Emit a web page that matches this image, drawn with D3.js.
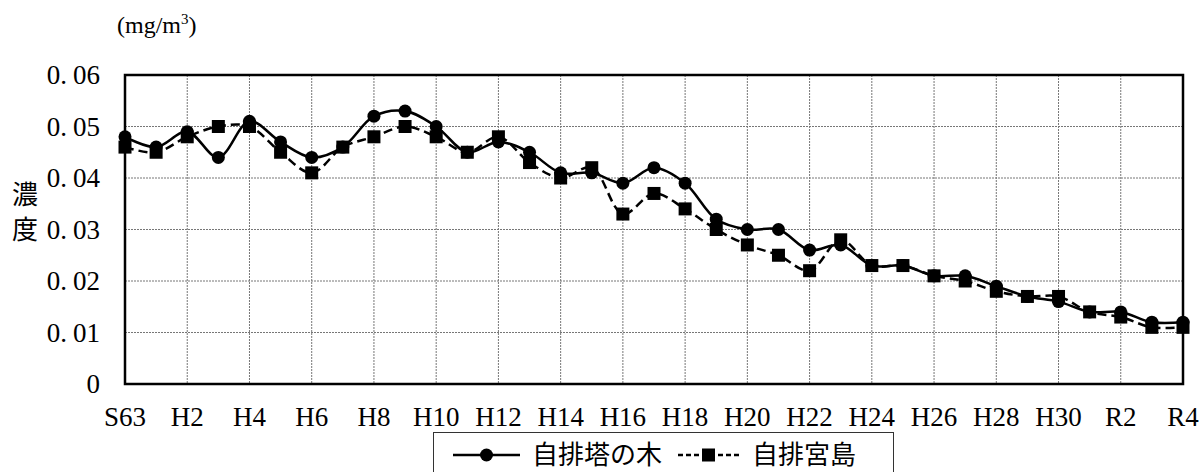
<!DOCTYPE html>
<html>
<head>
<meta charset="utf-8">
<script src="https://cdn.jsdelivr.net/npm/d3@7"></script>
<style>
  body { margin: 0; background: #fff; }
  text { font-family: "Liberation Serif", "Noto Sans CJK JP", serif; fill: #000; }
</style>
</head>
<body>
<svg id="chart"></svg>
<script>
// fiscal years, S63 .. R4
const years = ["S63", "H1", "H2", "H3", "H4", "H5", "H6", "H7", "H8", "H9", "H10",
    "H11", "H12", "H13", "H14", "H15", "H16", "H17", "H18", "H19", "H20",
    "H21", "H22", "H23", "H24", "H25", "H26", "H27", "H28", "H29", "H30",
    "R1", "R2", "R3", "R4"];

// 自排塔の木
const tonoki = [0.048, 0.046, 0.049, 0.044, 0.051, 0.047, 0.044, 0.046, 0.052, 0.053, 0.050,
    0.045, 0.047, 0.045, 0.041, 0.041, 0.039, 0.042, 0.039, 0.032, 0.030,
    0.030, 0.026, 0.027, 0.023, 0.023, 0.021, 0.021, 0.019, 0.017, 0.016,
    0.014, 0.014, 0.012, 0.012];

// 自排宮島
const miyajima = [0.046, 0.045, 0.048, 0.050, 0.050, 0.045, 0.041, 0.046, 0.048, 0.050, 0.048,
    0.045, 0.048, 0.043, 0.040, 0.042, 0.033, 0.037, 0.034, 0.030, 0.027,
    0.025, 0.022, 0.028, 0.023, 0.023, 0.021, 0.020, 0.018, 0.017, 0.017,
    0.014, 0.013, 0.011, 0.011];

const yTicks = [0, 0.01, 0.02, 0.03, 0.04, 0.05, 0.06];
const xTickLabels = years.filter((d, i) => i % 2 === 0);
const seriesNames = ["自排塔の木", "自排宮島"];

const width = 1204, height = 472;
const margin = {top: 75, right: 21, bottom: 88, left: 125};

const svg = d3.select("#chart")
    .attr("width", width)
    .attr("height", height);

const x = d3.scalePoint()
    .domain(years)
    .range([margin.left, width - margin.right]);

const y = d3.scaleLinear()
    .domain([0, 0.06])
    .range([height - margin.bottom, margin.top]);

// grid
const grid = svg.append("g");

grid.selectAll("line.h")
    .data(yTicks.slice(1, -1))
    .join("line")
    .attr("x1", margin.left)
    .attr("x2", width - margin.right)
    .attr("y1", d => y(d))
    .attr("y2", d => y(d))
    .attr("stroke", "#777")
    .attr("stroke-width", 1)
    .attr("stroke-dasharray", "2,1");

grid.selectAll("line.v")
    .data(xTickLabels.slice(1, -1))
    .join("line")
    .attr("x1", d => x(d))
    .attr("x2", d => x(d))
    .attr("y1", margin.top)
    .attr("y2", height - margin.bottom)
    .attr("stroke", "#777")
    .attr("stroke-width", 1)
    .attr("stroke-dasharray", "2,1");

// plot frame
svg.append("rect")
    .attr("x", margin.left)
    .attr("y", margin.top)
    .attr("width", width - margin.left - margin.right)
    .attr("height", height - margin.top - margin.bottom)
    .attr("fill", "none")
    .attr("stroke", "#000")
    .attr("stroke-width", 2.5);

// y axis labels
const yLab = svg.append("g")
    .selectAll("text")
    .data(yTicks)
    .join("text")
    .attr("x", margin.left - 25)
    .attr("y", d => y(d))
    .attr("text-anchor", "end")
    .attr("dominant-baseline", "central")
    .style("font-size", "27px");

yLab.each(function(d) {
    const t = d3.select(this);
    if (d === 0) {
        t.text("0");
    } else {
        const s = d3.format(".2f")(d).split(".");
        t.append("tspan").text(s[0] + ".");
        t.append("tspan").attr("dx", 6).text(s[1]);
    }
});

// x axis labels
svg.append("g")
    .selectAll("text")
    .data(xTickLabels)
    .join("text")
    .attr("x", d => x(d))
    .attr("y", height - margin.bottom + 42)
    .attr("text-anchor", "middle")
    .style("font-size", "27px")
    .text(d => d);

// unit and axis title
const unit = svg.append("text")
    .attr("x", 117)
    .attr("y", 33)
    .style("font-size", "24px")
    .text("(mg/m");
unit.append("tspan").attr("dy", -9).style("font-size", "15px").text("3");
unit.append("tspan").attr("dy", 9).text(")");

svg.append("text")
    .attr("x", 25)
    .attr("y", 195)
    .attr("text-anchor", "middle")
    .attr("dominant-baseline", "central")
    .style("font-size", "26px")
    .text("濃");
svg.append("text")
    .attr("x", 25)
    .attr("y", 230)
    .attr("text-anchor", "middle")
    .attr("dominant-baseline", "central")
    .style("font-size", "26px")
    .text("度");

// lines
const line = d3.line()
    .x((d, i) => x(years[i]))
    .y(d => y(d))
    .curve(d3.curveCatmullRom.alpha(0.5));

svg.append("path")
    .datum(miyajima)
    .attr("d", line)
    .attr("fill", "none")
    .attr("stroke", "#000")
    .attr("stroke-width", 2.5)
    .attr("stroke-dasharray", "9,5");

svg.append("path")
    .datum(tonoki)
    .attr("d", line)
    .attr("fill", "none")
    .attr("stroke", "#000")
    .attr("stroke-width", 2.5);

svg.append("g")
    .selectAll("rect")
    .data(miyajima)
    .join("rect")
    .attr("x", (d, i) => x(years[i]) - 6.5)
    .attr("y", d => y(d) - 6.5)
    .attr("width", 13)
    .attr("height", 13)
    .attr("fill", "#000");

svg.append("g")
    .selectAll("circle")
    .data(tonoki)
    .join("circle")
    .attr("cx", (d, i) => x(years[i]))
    .attr("cy", d => y(d))
    .attr("r", 6.5)
    .attr("fill", "#000");

// legend
const legend = svg.append("g");

legend.append("rect")
    .attr("x", 433.5)
    .attr("y", 432.5)
    .attr("width", 460)
    .attr("height", 60)
    .attr("fill", "#fff")
    .attr("stroke", "#333")
    .attr("stroke-width", 1);

const legY = 455;

legend.append("line")
    .attr("x1", 453).attr("x2", 520)
    .attr("y1", legY).attr("y2", legY)
    .attr("stroke", "#000")
    .attr("stroke-width", 2.5);
legend.append("circle")
    .attr("cx", 486.5).attr("cy", legY).attr("r", 6.5)
    .attr("fill", "#000");
legend.append("text")
    .attr("x", 532).attr("y", legY)
    .attr("dominant-baseline", "central")
    .style("font-size", "26px")
    .text(seriesNames[0]);

legend.append("line")
    .attr("x1", 678).attr("x2", 740)
    .attr("y1", legY).attr("y2", legY)
    .attr("stroke", "#000")
    .attr("stroke-width", 2.5)
    .attr("stroke-dasharray", "5,3");
legend.append("rect")
    .attr("x", 702).attr("y", legY - 6.5)
    .attr("width", 13).attr("height", 13)
    .attr("fill", "#000");
legend.append("text")
    .attr("x", 752).attr("y", legY)
    .attr("dominant-baseline", "central")
    .style("font-size", "26px")
    .text(seriesNames[1]);
</script>
</body>
</html>
